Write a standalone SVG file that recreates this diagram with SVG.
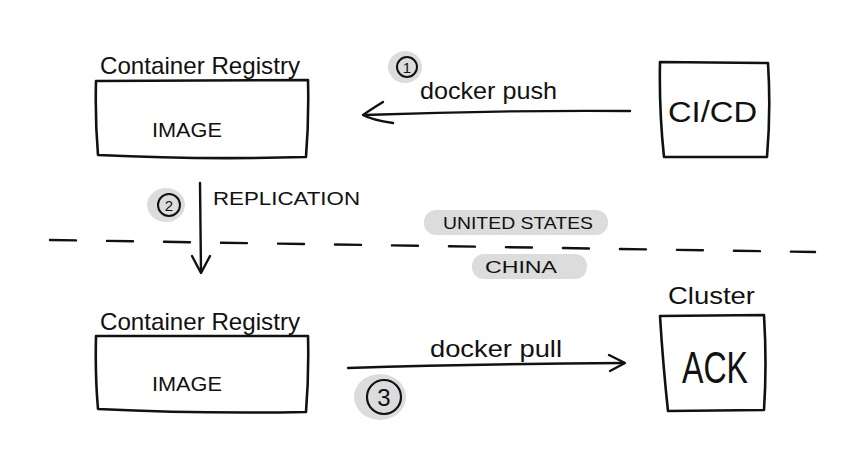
<svg xmlns="http://www.w3.org/2000/svg" width="860" height="451" viewBox="0 0 860 451">
<defs>
<style>
.box{fill:none;stroke:#111;stroke-width:2.6;stroke-linejoin:round}
.ln{fill:none;stroke:#111;stroke-width:2.4;stroke-linecap:round;stroke-linejoin:round}
.t{font-family:"Liberation Sans",Arial,sans-serif;fill:#111}
.hl{fill:#dcdcdc}
</style>
</defs>
<rect width="860" height="451" fill="#fff"/>
<g id="connectors">
<path class="ln" d="M630 111 Q500 110 364 115"/>
<path class="ln" d="M383 102 Q370 110 363 115 Q372 120 393 123"/>
<path class="ln" d="M200 183 L201 272"/>
<path class="ln" d="M192 256 L201 273 L210 256"/>
<path class="ln" d="M348 368 Q480 364 624 363"/>
<path class="ln" d="M609 355 L625 363 L610 371"/>
<path d="M50 240 L815 252" fill="none" stroke="#111" stroke-width="2.4" stroke-dasharray="26 31" stroke-linecap="round"/>
<text class="t" x="420" y="99" font-size="24" textLength="137" lengthAdjust="spacingAndGlyphs">docker push</text>
<text class="t" x="430" y="357" font-size="24" textLength="132" lengthAdjust="spacingAndGlyphs">docker pull</text>
<text class="t" x="213" y="205" font-size="18" textLength="147" lengthAdjust="spacingAndGlyphs">REPLICATION</text>
</g>
<g id="step1">
<ellipse class="hl" cx="405" cy="67" rx="17" ry="16"/>
<circle cx="407" cy="67" r="10" fill="none" stroke="#111" stroke-width="2"/>
<text class="t" x="407" y="73" font-size="15" text-anchor="middle">1</text>
</g>
<g id="step2">
<ellipse class="hl" cx="166" cy="205" rx="19" ry="17"/>
<circle cx="169" cy="205" r="11" fill="none" stroke="#111" stroke-width="2"/>
<text class="t" x="169" y="211" font-size="15" text-anchor="middle">2</text>
</g>
<g id="step3">
<ellipse class="hl" cx="380" cy="397" rx="26" ry="23"/>
<circle cx="384" cy="397" r="17" fill="none" stroke="#111" stroke-width="2.2"/>
<text class="t" x="384" y="406" font-size="24" text-anchor="middle">3</text>
</g>
<g id="region-us">
<rect class="hl" x="424" y="210" width="184" height="25" rx="12"/>
<text class="t" x="443" y="229" font-size="17" textLength="150" lengthAdjust="spacingAndGlyphs">UNITED STATES</text>
</g>
<g id="region-cn">
<rect class="hl" x="472" y="254" width="115" height="25" rx="12"/>
<text class="t" x="485" y="273" font-size="17" textLength="72" lengthAdjust="spacingAndGlyphs">CHINA</text>
</g>
<g id="registry-us">
<text class="t" x="100" y="74" font-size="24" textLength="200" lengthAdjust="spacingAndGlyphs">Container Registry</text>
<path class="box" d="M96 81 L308 80 Q309 120 306 157 Q200 160 98 155 Q95 120 96 81 Z"/>
<text class="t" x="152" y="137" font-size="21" textLength="70" lengthAdjust="spacingAndGlyphs">IMAGE</text>
</g>
<g id="cicd">
<path class="box" d="M660 62 L768 63 Q771 110 767 157 L664 157 Q659 110 660 62 Z"/>
<text class="t" x="668" y="122" font-size="30" textLength="89" lengthAdjust="spacingAndGlyphs">CI/CD</text>
</g>
<g id="registry-cn">
<text class="t" x="100" y="330" font-size="24" textLength="200" lengthAdjust="spacingAndGlyphs">Container Registry</text>
<path class="box" d="M96 336 L308 336 Q309 375 306 412 Q200 414 98 409 Q95 375 96 336 Z"/>
<text class="t" x="152" y="391" font-size="21" textLength="70" lengthAdjust="spacingAndGlyphs">IMAGE</text>
</g>
<g id="cluster">
<text class="t" x="668" y="304" font-size="24" textLength="87" lengthAdjust="spacingAndGlyphs">Cluster</text>
<path class="box" d="M660 316 L764 315 Q767 365 764 410 L668 411 Q663 365 660 316 Z"/>
<text class="t" x="682" y="383" font-size="44" textLength="66" lengthAdjust="spacingAndGlyphs">ACK</text>
</g>
</svg>
